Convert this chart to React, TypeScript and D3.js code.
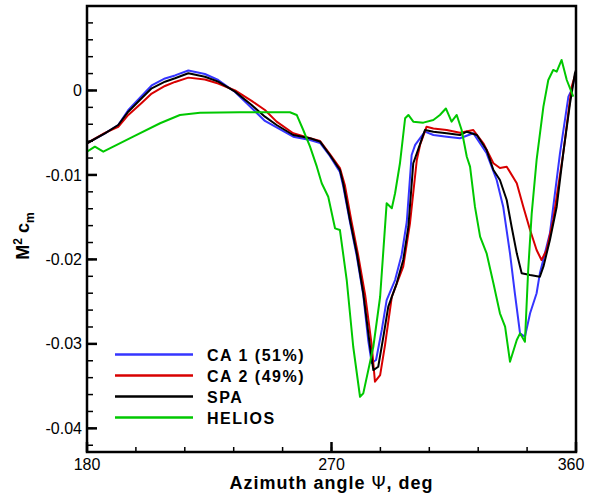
import React from "react";
import * as d3 from "d3";

type P = [number, number];

const seriesNames = ["CA 1 (51%)", "CA 2 (49%)", "SPA", "HELIOS"];
const seriesColors = ["#3535ff", "#d80000", "#000000", "#00c800"];

const ca1: P[] = [
  [180, -0.00625], [186.6, -0.00507], [191.5, -0.00409], [195.2, -0.00231], [200.1, -0.00065],
  [203.8, 0.00059], [208.7, 0.00142], [212.4, 0.00178], [217.3, 0.00237], [223.4, 0.00195],
  [228.3, 0.00124], [234.5, -0.00018], [240.6, -0.00207], [245.5, -0.00361], [249.8, -0.00438],
  [255.9, -0.00547], [262.1, -0.00586], [265.8, -0.00622], [269.4, -0.00776], [273.1, -0.00965],
  [274.3, -0.01131], [276.8, -0.01557], [279.3, -0.0196], [281.7, -0.02422], [283.5, -0.02954],
  [284.8, -0.03227], [286.4, -0.03191], [288.5, -0.02836], [290.3, -0.02481], [293.4, -0.02244],
  [295.8, -0.01948], [297.7, -0.01557], [299.5, -0.00764], [300.8, -0.00645], [304.4, -0.00488],
  [307.5, -0.00527], [312.4, -0.00547], [317.3, -0.00566], [322.2, -0.00507], [327.1, -0.00744],
  [330.8, -0.0106], [333.2, -0.01376], [335.7, -0.01928], [337.5, -0.02401], [339.4, -0.02875],
  [341.2, -0.02915], [343.1, -0.02638], [345.5, -0.02401], [346.7, -0.02165], [350.4, -0.01691],
  [354.1, -0.00744], [357.2, -0.00073], [358.4, 0.00006], [360, 0.00219],
];

const ca2: P[] = [
  [180, -0.00625], [186.6, -0.00503], [191.5, -0.00432], [195.2, -0.0029], [200.1, -0.00148],
  [203.8, -0.00036], [208.7, 0.00053], [212.4, 0.00101], [217.3, 0.00152], [223.4, 0.0013],
  [228.3, 0.00083], [234.5, 0.0], [240.6, -0.00124], [245.5, -0.00231], [249.8, -0.00369],
  [255.9, -0.00507], [262.1, -0.00566], [265.8, -0.00598], [269.4, -0.00752], [273.1, -0.00918],
  [274.9, -0.01119], [277.4, -0.01557], [279.8, -0.01948], [282.4, -0.02422], [284.8, -0.03014],
  [286.0, -0.03448], [287.9, -0.03369], [289.7, -0.03014], [292.2, -0.02442], [296.4, -0.02086],
  [298.9, -0.01569], [301.4, -0.00823], [302.6, -0.00645], [305.0, -0.00429], [307.5, -0.0045],
  [312.4, -0.00468], [317.3, -0.005], [322.2, -0.00468], [325.9, -0.00625], [329.6, -0.00862],
  [332.0, -0.00918], [334.5, -0.00902], [338.2, -0.01099], [340.6, -0.01376], [343.1, -0.01652],
  [345.5, -0.01889], [347.3, -0.02007], [349.2, -0.01889], [351.6, -0.01533], [355.3, -0.00744],
  [358.4, 0.00045], [360, 0.00219],
];

const spa: P[] = [
  [180, -0.00625], [186.6, -0.00507], [191.5, -0.00409], [195.2, -0.00251], [200.1, -0.00092],
  [203.8, 0.00026], [208.7, 0.00104], [212.4, 0.00144], [217.3, 0.00204], [223.4, 0.00163],
  [228.3, 0.00104], [234.5, -0.00014], [240.6, -0.00172], [245.5, -0.0031], [249.8, -0.00409],
  [255.9, -0.00527], [262.1, -0.00566], [265.8, -0.00606], [269.4, -0.00764], [273.1, -0.00941],
  [274.3, -0.01099], [276.8, -0.01533], [279.3, -0.01928], [281.7, -0.02401], [284.2, -0.03034],
  [285.4, -0.0331], [287.2, -0.03271], [289.1, -0.02915], [290.9, -0.0256], [294.0, -0.02283],
  [296.4, -0.02007], [298.3, -0.01613], [300.1, -0.00862], [301.4, -0.00744], [304.4, -0.00468],
  [307.5, -0.00488], [312.4, -0.00507], [317.3, -0.00527], [319.8, -0.00488], [323.5, -0.00527],
  [327.1, -0.00705], [329.6, -0.00941], [332.0, -0.0106], [334.5, -0.01297], [336.3, -0.01613],
  [338.2, -0.01928], [340.0, -0.02165], [343.1, -0.02185], [346.7, -0.02205], [348.0, -0.02086],
  [350.4, -0.0177], [352.9, -0.01376], [355.3, -0.00744], [357.8, -0.00152], [359.6, 0.00204],
  [360, 0.0024],
];

const helios: P[] = [
  [180, -0.00725], [182.9, -0.00665], [186.0, -0.00725], [197.0, -0.00547], [206.9, -0.00388],
  [214.2, -0.0029], [221.6, -0.00263], [236.3, -0.00258], [249.2, -0.00258], [254.7, -0.00258],
  [257.2, -0.0029], [259.6, -0.00468], [262.1, -0.00665], [264.6, -0.00902], [266.4, -0.01099],
  [268.8, -0.01258], [271.3, -0.01632], [273.1, -0.01652], [275.6, -0.02244], [278.0, -0.03034],
  [280.5, -0.03626], [281.7, -0.03586], [285.4, -0.03034], [287.9, -0.02442], [290.3, -0.01336],
  [292.2, -0.01395], [293.4, -0.01217], [295.2, -0.00862], [297.1, -0.00329], [298.3, -0.0029],
  [300.1, -0.00369], [303.8, -0.00381], [307.5, -0.00349], [309.9, -0.0029], [312.1, -0.00213],
  [314.2, -0.00369], [316.1, -0.0029], [317.9, -0.00468], [319.8, -0.00784], [321.0, -0.00902],
  [322.8, -0.01376], [324.7, -0.01731], [327.1, -0.01928], [329.6, -0.02283], [332.0, -0.02638],
  [333.9, -0.02797], [335.7, -0.03211], [338.2, -0.02954], [339.4, -0.02875], [341.2, -0.02975],
  [342.4, -0.02126], [343.7, -0.01454], [345.5, -0.00823], [348.0, -0.00192], [349.8, 0.00124],
  [351.6, 0.00243], [352.9, 0.00223], [354.7, 0.00361], [356.6, 0.00124], [359.0, -0.00073],
];

const seriesData: P[][] = [ca1, ca2, spa, helios];
const drawOrder = [0, 1, 2, 3];

const xMajorTicks = [180, 270, 360];
const xMinorTicks = d3.range(180, 361, 18);
const yMajorTicks = [0, -0.01, -0.02, -0.03, -0.04];
const yMinorTicks = d3.range(-42, 11, 2).map((v) => v / 1000);
const yTickLabels = ["0", "-0.01", "-0.02", "-0.03", "-0.04"];

const W = 592;
const H = 497;
const L = 87, R = 576, T = 6, B = 452;

export default function App() {
  const x = d3.scaleLinear().domain([180, 360]).range([L, R]);
  const y = d3.scaleLinear().domain([-0.0428, 0.01]).range([B, T]);
  const line = d3.line<P>().x((d) => x(d[0])).y((d) => y(d[1]));
  const font = "'Liberation Sans', Arial, sans-serif";

  return (
    <div style={{ position: "fixed", left: 0, top: 0 }}>
      <svg width={W} height={H} style={{ display: "block", background: "#fff" }} fontFamily={font}>
        <rect x={0} y={0} width={W} height={H} fill="#fff" />
        <defs>
          <clipPath id="plotclip">
            <rect x={L} y={T} width={R - L} height={B - T} />
          </clipPath>
        </defs>
        <g clipPath="url(#plotclip)">
          {drawOrder.map((i) => (
            <path key={i} d={line(seriesData[i]) || ""} fill="none" stroke={seriesColors[i]}
              strokeWidth={2} strokeLinejoin="round" />
          ))}
        </g>
        {xMinorTicks.map((t) => (
          <line key={"xm" + t} x1={x(t)} x2={x(t)} y1={B} y2={B - 5} stroke="#000" strokeWidth={1.5} />
        ))}
        {xMajorTicks.map((t) => (
          <line key={"xM" + t} x1={x(t)} x2={x(t)} y1={B} y2={B - 10} stroke="#000" strokeWidth={2.5} />
        ))}
        {xMajorTicks.map((t, i) => (
          <text key={"xl" + t} x={x(t) + (i === 2 ? -5 : 0)} y={B + 18} fontSize={16} textAnchor="middle">{t}</text>
        ))}
        {yMinorTicks.map((t) => (
          <line key={"ym" + t} x1={L} x2={L + 6} y1={y(t)} y2={y(t)} stroke="#000" strokeWidth={1.5} />
        ))}
        {yMajorTicks.map((t) => (
          <line key={"yM" + t} x1={L} x2={L + 10} y1={y(t)} y2={y(t)} stroke="#000" strokeWidth={2.5} />
        ))}
        {yMajorTicks.map((t, i) => (
          <text key={"yl" + t} x={L - 5} y={y(t)} dy="0.35em" fontSize={16} textAnchor="end">{yTickLabels[i]}</text>
        ))}
        <rect x={L} y={T} width={R - L} height={B - T} fill="none" stroke="#000" strokeWidth={2.5} />
        <text x={x(270)} y={489} fontSize={18} fontWeight="bold" textAnchor="middle" letterSpacing={1}>
          Azimuth angle <tspan fontWeight="normal" fontFamily="'DejaVu Sans', sans-serif">Ψ</tspan>, deg
        </text>
        <text transform="translate(29,236) rotate(-90)" fontSize={18} fontWeight="bold" textAnchor="middle">
          M<tspan fontSize={12} dy={-7}>2</tspan><tspan dy={7}> c</tspan><tspan fontSize={12} dy={5}>m</tspan>
        </text>
        {seriesNames.map((n, i) => (
          <g key={n} transform={`translate(0,${354.5 + i * 21})`}>
            <line x1={115} x2={193} y1={0} y2={0} stroke={seriesColors[i]} strokeWidth={2.5} />
            <text x={207} y={6} fontSize={16} fontWeight="bold" letterSpacing={1.5}>{n}</text>
          </g>
        ))}
      </svg>
    </div>
  );
}
